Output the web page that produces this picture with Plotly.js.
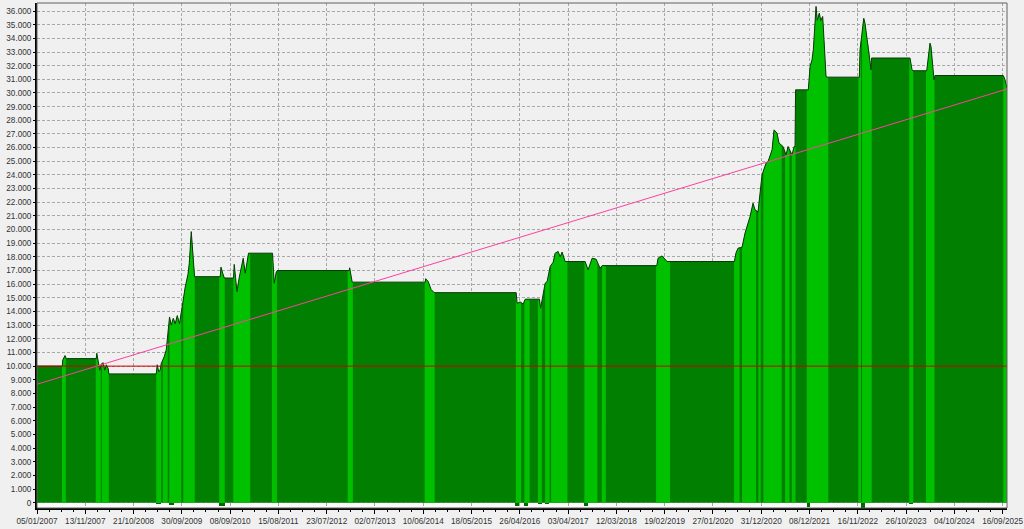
<!DOCTYPE html>
<html><head><meta charset="utf-8">
<script src="https://cdn.plot.ly/plotly-3.0.1.min.js"></script>
<style>html,body{margin:0;padding:0;background:#f0f0f0;}#chart{width:1024px;height:529px;}</style>
</head><body><div id="chart"></div>
<script>
// x axis: bar index (labels every 100 bars)
const tickPositions = [0,100,200,300,400,500,600,700,800,900,1000,1100,1200,1300,1400,1500,1600,1700,1800,1900,2000];
const tickLabels = ["05/01/2007","13/11/2007","21/10/2008","30/09/2009","08/09/2010","15/08/2011","23/07/2012","02/07/2013","10/06/2014","18/05/2015","26/04/2016","03/04/2017","12/03/2018","19/02/2019","27/01/2020","31/12/2020","08/12/2021","16/11/2022","26/10/2023","04/10/2024","16/09/2025"];

// equity curve
const eqT = [0,52.4,53.4,58,60.7,122.8,123.8,126.9,130,133,137,140.4,143.5,147.6,148.7,247,249,252,255,257.4,263.6,267.7,271.9,274.5,278,282.2,286.3,290.5,295.2,300.8,307,312.6,315.3,319.5,322.6,326.3,379.5,381,384.7,387.8,407,408.5,411.2,414.1,418.9,423,427.1,431.3,438.1,487.8,491.3,495.5,497.5,646.6,647.6,652.8,804,805,810.1,816.4,822.6,992.4,994.5,1000.7,1006.9,1011.1,1040.6,1043.1,1048.3,1052.4,1056.6,1062.8,1069,1073.1,1079.3,1083.5,1087.6,1093.8,1135.2,1141.4,1149.7,1158,1166.2,1170.4,1283.7,1286.3,1294.6,1304.9,1444.3,1447.8,1452,1460.2,1466.4,1476.8,1483,1487.2,1493.4,1501.6,1509.9,1514.1,1522.4,1526.5,1532.7,1536.9,1545.2,1551.4,1555.5,1559.7,1563.8,1568,1570,1571.1,1597.5,1601.1,1605.2,1607.9,1613.5,1616.1,1620.3,1623.2,1627.3,1630,1634.2,1636.9,1703.2,1704.6,1708.8,1712.3,1715,1719.1,1721.2,1725.4,1727.4,1728.4,1808.1,1812.3,1814.3,1842.7,1845.3,1849.5,1851.6,1855.7,1857.8,1859.8,2001.3,2004.8,2009];
const eqV = [10000,10000,10450,10770,10550,10550,10940,10300,9700,10150,10250,9700,10100,9800,9430,9430,10100,9600,9700,10200,10700,11200,12500,13600,13000,13500,13100,13700,13100,14500,15800,16700,17500,19850,18600,16550,16550,17250,16800,16450,16450,17450,16500,15460,16500,17300,17900,16800,18270,18270,16070,16900,17000,17000,17200,16150,16150,16400,16200,15600,15380,15380,14600,14700,14550,14900,14900,14240,15300,16070,16200,17300,17600,18270,18390,18000,18350,17660,17660,17050,17900,17830,17170,17360,17360,17900,18070,17660,17660,18300,18640,18700,19740,20950,21930,21440,21300,24000,24860,24980,25840,27300,27060,26330,26080,25470,26080,25720,25470,26080,26080,30230,30230,31940,32430,33170,36340,35320,35850,35300,35600,33900,31200,31160,31160,33170,34390,35470,35100,33900,33650,32300,31700,32560,32560,31700,31630,31630,32300,33650,33400,31470,30970,31280,31280,30970,30360];

// in-trade periods (light bands)
const bandStart = [51.8,121.7,134.2,247.0,260.5,273.9,302.9,377.4,406.4,486.5,643.5,802.9,991.7,1009.5,1037.3,1052.4,1064.8,1133.7,1169.8,1282.2,1443.7,1460.2,1494.0,1504.4,1549.3,1563.2,1594.2,1701.0,1708.7,1806.6,1841.2,2001.3];
const bandEnd   = [59.6,132.1,148.7,257.4,270.8,298.8,326.7,388.8,441.6,496.9,654.2,823.6,1002.7,1020.3,1045.6,1061.7,1098.6,1160.7,1178.1,1311.2,1455.1,1489.3,1499.0,1542.4,1558.6,1571.0,1638.9,1706.6,1728.8,1814.9,1858.8,2009];

// small marks below zero
const notchStart = [247,274,377,991,1009,1037,1052,1133,1594,1706,1807];
const notchEnd   = [257,283,389,998,1017,1045,1060,1142,1602,1715,1815];
const notchDepth = [-120,-180,-220,-250,-250,-100,-120,-250,-290,-480,-120];

const trendT = [0,2009];
const trendV = [8670,30290];
const baseLevel = 10000;

function eqAt(t){
  if (t <= eqT[0]) return eqV[0];
  for (let i=1;i<eqT.length;i++){
    if (t <= eqT[i]){
      const f = (t-eqT[i-1])/(eqT[i]-eqT[i-1]);
      return eqV[i-1] + f*(eqV[i]-eqV[i-1]);
    }
  }
  return eqV[eqV.length-1];
}
const bx=[], by=[];
for (let k=0;k<bandStart.length;k++){
  const a=bandStart[k], b=bandEnd[k];
  bx.push(a); by.push(0);
  bx.push(a); by.push(eqAt(a));
  for (let i=0;i<eqT.length;i++){ if (eqT[i]>a && eqT[i]<b){ bx.push(eqT[i]); by.push(eqV[i]); } }
  bx.push(b); by.push(eqAt(b));
  bx.push(b); by.push(0);
  bx.push(a); by.push(0);
  bx.push(null); by.push(null);
}

const traces = [
  {x:eqT, y:eqV, type:'scatter', mode:'lines', fill:'tozeroy', fillcolor:'#007f00', line:{width:0, color:'#007f00'}, hoverinfo:'skip'},
  {x:bx, y:by, type:'scatter', mode:'lines', fill:'toself', fillcolor:'#00c000', line:{width:0, color:'#00c000'}, connectgaps:false, hoverinfo:'skip'},
  {x:notchStart.map((s,i)=>(s+notchEnd[i])/2), y:notchDepth, width:notchStart.map((s,i)=>notchEnd[i]-s), type:'bar', marker:{color:'#006800', line:{width:0}}, hoverinfo:'skip'},
  {x:eqT, y:eqV, type:'scatter', mode:'lines', line:{width:1, color:'#0a3a0a'}, hoverinfo:'skip'},
  {x:[0,2009], y:[baseLevel,baseLevel], type:'scatter', mode:'lines', line:{width:1, color:'#d00000'}, hoverinfo:'skip'},
  {x:trendT, y:trendV, type:'scatter', mode:'lines', line:{width:1, color:'#ff3fa0'}, hoverinfo:'skip'}
];

const font = {family:'"Liberation Sans", Arial, sans-serif', size:8.2, color:'#333333'};
const layout = {
  width:1024, height:529,
  margin:{l:37, r:17, t:3, b:21},
  paper_bgcolor:'#f0f0f0', plot_bgcolor:'#f0f0f0',
  showlegend:false,
  separators:',.',
  font:font,
  bargap:0,
  xaxis:{range:[0,2009], tickmode:'array', tickvals:tickPositions, ticktext:tickLabels,
    showgrid:true, gridcolor:'#a8a8a8', griddash:'3px,2px', gridwidth:1,
    showline:true, linecolor:'#000000', linewidth:2, ticks:'outside', ticklen:4, tickcolor:'#000000',
    minor:{ticks:'outside', ticklen:2, tickcolor:'#000000', dtick:25, tick0:0, showgrid:false},
    ticklabeloverflow:'allow',
    zeroline:false, fixedrange:true, tickfont:font},
  yaxis:{range:[-390,36590], dtick:1000, tick0:0, tickformat:',d',
    showgrid:true, gridcolor:'#a8a8a8', griddash:'3px,2px', gridwidth:1,
    showline:true, linecolor:'#000000', linewidth:2, ticks:'outside', ticklen:2, tickcolor:'#000000',
    zeroline:false, fixedrange:true, tickfont:font},
  shapes:[
    {type:'rect', xref:'paper', yref:'y', x0:0, x1:1, y0:-390, y1:0, fillcolor:'#fbfbfb', line:{width:0}, layer:'below'},
    {type:'rect', xref:'paper', yref:'paper', x0:0, x1:1, y0:0, y1:1, line:{width:1, color:'#606060'}, layer:'above'}
  ]
};
Plotly.newPlot('chart', traces, layout, {displayModeBar:false, staticPlot:true});
</script>
</body></html>
